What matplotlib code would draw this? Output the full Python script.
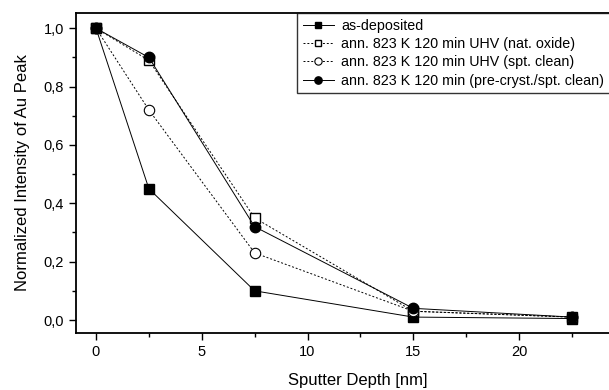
import matplotlib.pyplot as plt
from matplotlib.ticker import MultipleLocator, FixedLocator, FuncFormatter

plt.rcParams['font.family'] = ['Liberation Sans', 'DejaVu Sans']

depth = [0, 2.5, 7.5, 15, 22.5]
as_dep = [1.0, 0.45, 0.10, 0.01, 0.005]
nat_oxide = [1.0, 0.89, 0.35, 0.03, 0.01]
spt_clean = [1.0, 0.72, 0.23, 0.03, 0.01]
pre_cryst = [1.0, 0.90, 0.32, 0.04, 0.01]

labels = ["as-deposited",
          "ann. 823 K 120 min UHV (nat. oxide)",
          "ann. 823 K 120 min UHV (spt. clean)",
          "ann. 823 K 120 min (pre-cryst./spt. clean)"]

W, H = 609, 390
fig = plt.figure(figsize=(W / 100, H / 100), dpi=100)
left, right, top, bottom = 76, 640, 13, 333
ax = fig.add_axes([left / W, 1 - bottom / H, (right - left) / W, (bottom - top) / H])

ms = 7
ax.plot(depth, as_dep, '-', color='black', lw=0.7, marker='s', ms=ms, mfc='black', label=labels[0])
ax.plot(depth, nat_oxide, '--', color='black', lw=0.7, dashes=(2, 2), marker='s', ms=ms, mfc='white', mew=1.0, label=labels[1])
ax.plot(depth, spt_clean, '--', color='black', lw=0.7, dashes=(2, 2), marker='o', ms=ms + 0.5, mfc='white', mew=0.8, label=labels[2])
ax.plot(depth, pre_cryst, '-', color='black', lw=0.7, marker='o', ms=ms + 0.5, mfc='black', label=labels[3])

# pixel mapping
px = 21.15
ax.set_xlim(-(96 - left) / px, (right - 96) / px)
ypx = 291.7
ax.set_ylim(-(bottom - 320) / ypx, 1 + (28.3 - top) / ypx)

ax.xaxis.set_major_locator(FixedLocator([0, 5, 10, 15, 20]))
ax.xaxis.set_minor_locator(FixedLocator([2.5, 7.5, 12.5, 17.5, 22.5]))
ax.yaxis.set_major_locator(MultipleLocator(0.2))
ax.yaxis.set_minor_locator(MultipleLocator(0.1))
ax.yaxis.set_major_formatter(FuncFormatter(lambda v, p: f"{v:.1f}".replace('.', ',')))
ax.tick_params(which='major', direction='out', length=5, width=1, labelsize=10.5)
ax.tick_params(which='minor', direction='out', length=3, width=1)
for s in ax.spines.values():
    s.set_linewidth(1.3)

ax.set_xlabel("Sputter Depth [nm]", fontsize=12, labelpad=10)
ax.set_ylabel("Normalized Intensity of Au Peak", fontsize=12, labelpad=10)

leg = ax.legend(loc='upper left', bbox_to_anchor=(297 / W, 1 - 13 / H), bbox_transform=fig.transFigure,
                fontsize=10.3, frameon=True, fancybox=False, edgecolor='black', borderaxespad=0,
                handlelength=2.2, handletextpad=0.5, labelspacing=0.3, borderpad=0.4, markerscale=0.7)
leg.get_frame().set_linewidth(1.0)

fig.savefig("out.png", dpi=100)
